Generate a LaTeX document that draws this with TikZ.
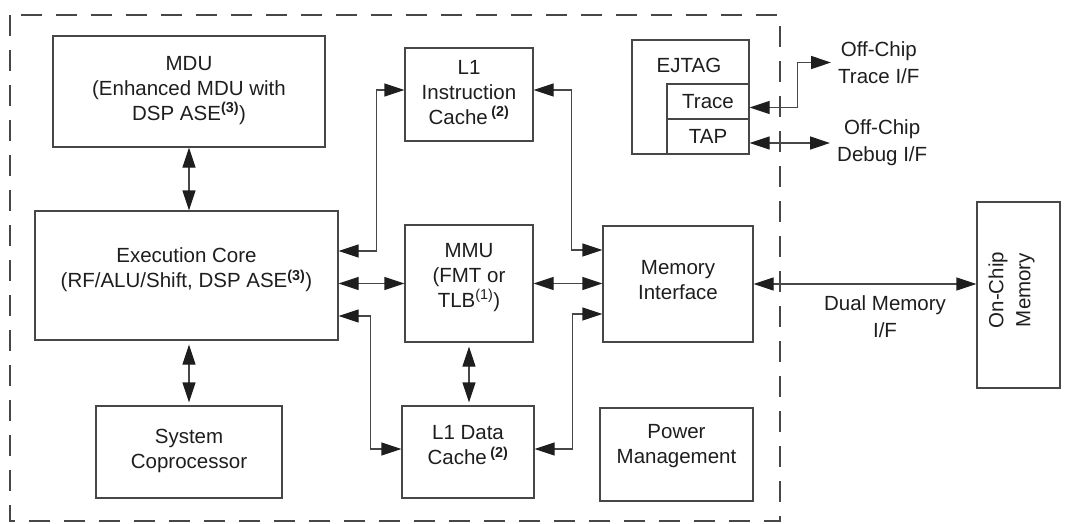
\documentclass[tikz,border=0pt]{standalone}
\usepackage{fontspec}
\setmainfont{Liberation Sans}
\usepackage{xcolor}
\usetikzlibrary{arrows.meta}
\definecolor{BoxGray}{HTML}{474747}
\definecolor{InkDark}{HTML}{1E1E1E}

\tikzset{
  blk/.style={draw=BoxGray, line width=1.3pt, align=center, inner sep=0pt,
    text=InkDark, font=\fontsize{20.5}{25}\selectfont},
  lbl/.style={align=center, inner xsep=7pt, inner ysep=0pt, text=InkDark,
    font=\fontsize{20.5}{27}\selectfont},
  bus/.style={draw=BoxGray, line width=1.3pt,
    >={Triangle[length=20pt,width=13pt,color=InkDark]}, <->}
}

\begin{document}
\begin{tikzpicture}[x=1pt, y=-1pt]
    \useasboundingbox (0,0) rectangle (1065,523);
    % chip boundary
    \draw[BoxGray, line width=1.3pt, dash pattern=on 21pt off 14pt] (10,15) rectangle (780,521);

    % core blocks
    \node[blk, minimum width=272pt, minimum height=111pt] (mdu) at (189,91.5)
      {MDU\\(Enhanced MDU with\\DSP ASE\textsuperscript{\bfseries(3)})\\[-18pt]};
    \node[blk, minimum width=303pt, minimum height=129pt] (core) at (186.5,275.5)
      {Execution Core\\(RF/ALU/Shift, DSP ASE\textsuperscript{\bfseries(3)})\\[-10pt]};
    \node[blk, minimum width=186pt, minimum height=92pt] (syscop) at (189,452)
      {System\\Coprocessor\\[-19pt]};
    \node[blk, minimum width=128pt, minimum height=93pt] (l1i) at (469,94.5)
      {L1\\Instruction\\Cache\,\textsuperscript{\bfseries(2)}\\[-20pt]};
    \node[blk, minimum width=128pt, minimum height=117pt] (mmu) at (469,283.5)
      {MMU\\(FMT or\\TLB\textsuperscript{(1)})\\[-8pt]};
    \node[blk, minimum width=132pt, minimum height=92pt] (l1d) at (468,452)
      {L1 Data\\Cache\,\textsuperscript{\bfseries(2)}\\[-11pt]};
    \node[blk, minimum width=150pt, minimum height=116pt] (memif) at (678,284)
      {Memory\\Interface\\[-17pt]};
    \node[blk, minimum width=153pt, minimum height=93pt] (power) at (676.5,454.5)
      {Power\\Management\\[-4pt]};

    % debug unit
    \node[blk, minimum width=117pt, minimum height=114pt] (ejtag) at (690.5,97) {};
    \node[text=InkDark, font=\fontsize{20.5}{25}\selectfont] (ejtaglbl) at (689,65) {EJTAG};
    \node[blk, minimum width=82pt, minimum height=35pt] (trace) at (708,101.5) {Trace};
    \node[blk, minimum width=82pt, minimum height=35pt] (tap) at (708,136.5) {TAP};

    % off-chip parts
    \node[blk, minimum width=83pt, minimum height=186pt] (ocm) at (1018.5,295) {};
    \node[rotate=90, align=center, text=InkDark, font=\fontsize{20.5}{27}\selectfont]
      (ocmlbl) at (1011.5,290) {On-Chip\\Memory};
    \node[lbl, anchor=west] (trlbl) at (831,62.5) {Off-Chip\\Trace I/F};
    \node[lbl, anchor=west] (dblbl) at (830,143) {Off-Chip\\Debug I/F};

    % connections
    \draw[bus] (mdu.south) -- (mdu.south |- core.north);
    \draw[bus] ([yshift=-4pt]syscop.north |- core.south) -- ([yshift=3pt]syscop.north);
    \draw[bus] ([yshift=24.5pt]core.east) -- ++(38pt,0) |- ([yshift=4.5pt]l1i.west);
    \draw[bus] (core.east |- mmu.west) -- (mmu.west);
    \draw[bus] ([yshift=-40.5pt]core.east) -- ++(32pt,0) |- ([yshift=3pt]l1d.west);
    \draw[bus] ([yshift=4.5pt]l1i.east) -- ++(38pt,0) |- ([yshift=34pt]memif.west);
    \draw[bus] (mmu.east) -- (mmu.east -| memif.west);
    \draw[bus] ([yshift=3pt]l1d.east) -- ++(38pt,0) |- ([yshift=-30pt]memif.west);
    \draw[bus] ([yshift=-4pt]mmu.south) -- ([yshift=3pt]mmu.south |- l1d.north);
    \draw[bus] (memif.east) -- (memif.east -| ocm.west)
      node[lbl, pos=0.59, below=11pt] (dmlbl) {Dual Memory\\I/F};
    \draw[bus] ([yshift=-6pt]trace.east) -- ++(48pt,0) |- (trlbl.west);
    \draw[bus] (tap.east |- dblbl.west) -- (dblbl.west);
  \end{tikzpicture}
\end{document}
